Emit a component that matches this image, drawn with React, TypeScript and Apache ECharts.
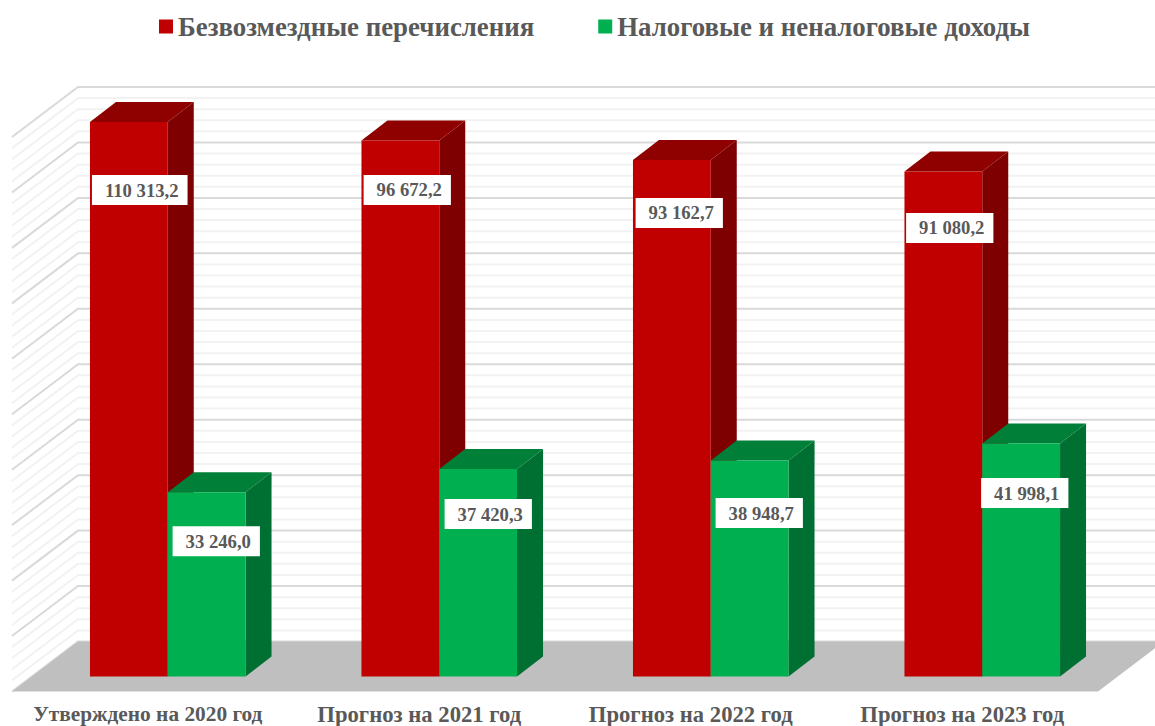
import React, { useEffect, useRef } from "react";
import * as echarts from "echarts";

const categories = ["Утверждено на 2020 год", "Прогноз на 2021 год", "Прогноз на 2022 год", "Прогноз на 2023 год"];
const grants = [110313.2, 96672.2, 93162.7, 91080.2];
const ownRevenue = [33246.0, 37420.3, 38948.7, 41998.1];
const grantsLabels = ["110 313,2", "96 672,2", "93 162,7", "91 080,2"];
const ownRevenueLabels = ["33 246,0", "37 420,3", "38 948,7", "41 998,1"];
const gridTicks = [0, 2000, 4000, 6000, 8000, 10000, 12000, 14000, 16000, 18000, 20000, 22000, 24000, 26000, 28000, 30000, 32000, 34000, 36000, 38000, 40000, 42000, 44000, 46000, 48000, 50000, 52000, 54000, 56000, 58000, 60000, 62000, 64000, 66000, 68000, 70000, 72000, 74000, 76000, 78000, 80000, 82000, 84000, 86000, 88000, 90000, 92000, 94000, 96000, 98000, 100000];

const AXIS_MAX = 100000;
const MAJOR_STEP = 10000;

// Projection of the 3D look, in pixels
const WALL_DX = 66, WALL_DY = -50;
const BAR_DX = 20, BAR_DY = -15;
const DEPTH_DX = 26, DEPTH_DY = -20;
const BAR_SHARE = 0.2865;

const TEXT = "#595959";
const FONT = '"Liberation Serif", "Times New Roman", serif';

// Where each hand-placed label's centre sits relative to the bar's top-centre
const grantsNudge = [[-28, 68], [-32, 49.5], [-31.5, 53], [-32.5, 56.5]];
const ownNudge = [[48.5, 49], [49, 45], [48.5, 52.5], [42.5, 49.5]];

function wallItem(params: any, api: any) {
  const v = api.value(1);
  const cs = params.coordSys;
  const y = api.coord([0, v])[1];
  const major = v % MAJOR_STEP === 0;
  return {
    type: "polyline",
    shape: {
      points: [
        [cs.x, y],
        [cs.x + WALL_DX, y + WALL_DY],
        [cs.x + cs.width + WALL_DX, y + WALL_DY],
      ],
    },
    style: { fill: "none", stroke: major ? "#D9D9D9" : "#F2F2F2", lineWidth: 2 },
    silent: true,
  };
}

function floorItem(params: any, api: any) {
  const cs = params.coordSys;
  const y = api.coord([0, 0])[1];
  return {
    type: "polygon",
    shape: {
      points: [
        [cs.x, y],
        [cs.x + WALL_DX, y + WALL_DY],
        [cs.x + cs.width + WALL_DX, y + WALL_DY],
        [cs.x + cs.width, y],
      ],
    },
    style: { fill: "#BFBFBF" },
    silent: true,
  };
}

function barRenderer(side: -1 | 1, front: string, right: string, top: string) {
  return (params: any, api: any) => {
    const i = api.value(0);
    const v = Math.min(api.value(1), AXIS_MAX);
    const [cx, yTop] = api.coord([i, v]);
    const [, yBase] = api.coord([i, 0]);
    const w = api.size([1, 0])[0] * BAR_SHARE;
    const x0 = cx + BAR_DX + (side < 0 ? -w : 0);
    const x1 = x0 + w;
    const t = yTop + BAR_DY;
    const b = yBase + BAR_DY;
    return {
      type: "group",
      silent: true,
      children: [
        {
          type: "polygon",
          shape: { points: [[x1, t], [x1 + DEPTH_DX, t + DEPTH_DY], [x1 + DEPTH_DX, b + DEPTH_DY], [x1, b]] },
          style: { fill: right },
        },
        {
          type: "polygon",
          shape: { points: [[x0, t], [x0 + DEPTH_DX, t + DEPTH_DY], [x1 + DEPTH_DX, t + DEPTH_DY], [x1, t]] },
          style: { fill: top },
        },
        {
          type: "rect",
          shape: { x: x0, y: t, width: w, height: b - t },
          style: { fill: front },
        },
      ],
    };
  };
}

function labelRenderer(labels: string[], nudge: number[][]) {
  return (params: any, api: any) => {
    const i = api.value(0);
    const v = Math.min(api.value(1), AXIS_MAX);
    const [cx, yTop] = api.coord([i, v]);
    const x = cx + BAR_DX + nudge[i][0];
    const y = yTop + BAR_DY + nudge[i][1];
    return {
      type: "text",
      silent: true,
      style: {
        text: labels[i],
        x,
        y,
        align: "center",
        verticalAlign: "middle",
        fill: TEXT,
        font: `bold 18.67px ${FONT}`,
        lineHeight: 20,
        backgroundColor: "#FFFFFF",
        padding: [5, 9, 5, 13],
      },
    };
  };
}

const rows = (values: number[]) => values.map((v, i) => [i, v]);

const axisTextStyle = { color: TEXT, fontFamily: FONT, fontWeight: "bold" as const };

export default function App() {
  const ref = useRef<HTMLDivElement>(null);

  useEffect(() => {
    const chart = echarts.init(ref.current!, null, { renderer: "svg", width: 1155, height: 726 });
    chart.setOption({
      animation: false,
      backgroundColor: "#FFFFFF",
      legend: {
        data: ["Безвозмездные перечисления", "Налоговые и неналоговые доходы"],
        left: 159,
        top: 13,
        padding: 0,
        icon: "rect",
        itemWidth: 14,
        itemHeight: 14,
        itemGap: 64,
        selectedMode: false,
        textStyle: { color: TEXT, fontFamily: FONT, fontWeight: "bold", fontSize: 26.85 },
      },
      grid: { left: 12, top: 137, width: 1086, height: 554.5, outerBoundsMode: "none" },
      xAxis: {
        type: "category",
        data: categories,
        axisLine: { show: false },
        axisTick: { show: false },
        splitLine: { show: false },
        axisLabel: {
          ...axisTextStyle,
          fontSize: 21.33,
          lineHeight: 20,
          margin: 12.5,
          interval: 0,
          formatter: (value: string, index: number) => (index === 0 ? `{first|${value}}` : `{rest|${value}}`),
          rich: {
            first: { ...axisTextStyle, fontSize: 21.33, lineHeight: 20 },
            rest: { ...axisTextStyle, fontSize: 22.66, lineHeight: 20 },
          },
        },
      },
      yAxis: {
        type: "value",
        min: 0,
        max: AXIS_MAX,
        interval: MAJOR_STEP,
        show: false,
        splitLine: { show: false },
      },
      series: [
        {
          type: "custom",
          name: "wall",
          z: 1,
          data: gridTicks.map((t) => [0, t]),
          encode: { x: 0, y: 1 },
          renderItem: wallItem,
        },
        {
          type: "custom",
          name: "floor",
          z: 2,
          data: [[0, 0]],
          encode: { x: 0, y: 1 },
          renderItem: floorItem,
        },
        {
          type: "custom",
          name: "Безвозмездные перечисления",
          z: 3,
          itemStyle: { color: "#C00000" },
          data: rows(grants),
          encode: { x: 0, y: 1 },
          renderItem: barRenderer(-1, "#C00000", "#7F0000", "#8F0000"),
        },
        {
          type: "custom",
          name: "Налоговые и неналоговые доходы",
          z: 4,
          itemStyle: { color: "#00B050" },
          data: rows(ownRevenue),
          encode: { x: 0, y: 1 },
          renderItem: barRenderer(1, "#00B050", "#006F32", "#007F39"),
        },
        {
          type: "custom",
          name: "grantsLabels",
          z: 5,
          data: rows(grants),
          encode: { x: 0, y: 1 },
          renderItem: labelRenderer(grantsLabels, grantsNudge),
        },
        {
          type: "custom",
          name: "ownLabels",
          z: 5,
          data: rows(ownRevenue),
          encode: { x: 0, y: 1 },
          renderItem: labelRenderer(ownRevenueLabels, ownNudge),
        },
      ],
    });
    return () => chart.dispose();
  }, []);

  return <div ref={ref} style={{ position: "fixed", left: 0, top: 0, width: 1155, height: 726, overflow: "hidden" }} />;
}
